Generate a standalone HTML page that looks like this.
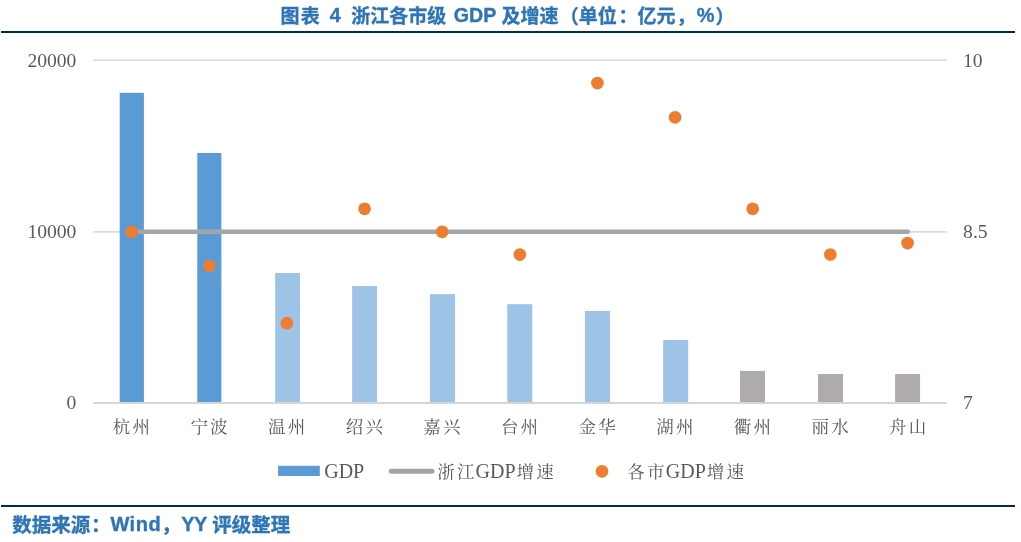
<!DOCTYPE html>
<html lang="zh-CN">
<head>
<meta charset="utf-8">
<title>图表 4 浙江各市级 GDP 及增速</title>
<style>
  html, body { margin: 0; padding: 0; background: #ffffff; }
  body { width: 1021px; height: 542px; overflow: hidden; position: relative; }
  svg { position: absolute; left: 0; top: 0; display: block; will-change: transform; }
  .hd { font-family: "Liberation Sans", "Noto Sans CJK SC", sans-serif; font-weight: bold; fill: #2e75b6; stroke: #2e75b6; stroke-width: 0.35px; }
  .ax { font-family: "Liberation Serif", "Noto Serif CJK SC", serif; font-size: 19.6px; fill: #595959; }
  .cj { font-size: 17.5px; letter-spacing: 2.2px; }
  .lg { font-size: 20px; }
</style>
</head>
<body>
<svg width="1021" height="542" viewBox="0 0 1021 542">
  <rect x="0" y="0" width="1021" height="542" fill="#ffffff"/>

  <!-- title -->
  <text class="hd" x="280.4" y="23.1" font-size="19">图<tspan dx="1.3">表</tspan> <tspan dx="4.7" dy="-1.5" font-size="19.6">4</tspan> <tspan dx="5.4" dy="1.5">浙江各市级</tspan> <tspan dx="2.2" dy="-1.5" font-size="19.6">GDP</tspan> <tspan dx="0" dy="1.5">及增速</tspan><tspan dx="1.1" dy="1.2">（</tspan><tspan dy="-1.2">单位</tspan><tspan dx="1.7">：亿元</tspan><tspan dx="1.2">，</tspan><tspan dx="1" dy="-1.5" font-size="20">%</tspan><tspan dx="1.1" dy="2.7">）</tspan></text>

  <!-- top & bottom rules -->
  <rect x="1" y="31" width="1014" height="2" fill="#002d58"/>
  <rect x="1" y="505" width="1014" height="2" fill="#002d58"/>

  <!-- gridlines -->
  <rect x="93.1" y="59.55" width="853.7" height="1.4" fill="#d9d9d9"/>
  <rect x="93.1" y="231.1" width="853.7" height="1.6" fill="#d9d9d9"/>

  <!-- bars -->
  <g fill="#5b9bd5">
    <rect x="119.7" y="92.8" width="24.2" height="310"/>
    <rect x="197.3" y="153" width="24.1" height="250"/>
  </g>
  <g fill="#9dc3e6">
    <rect x="275.2" y="273" width="24.8" height="130"/>
    <rect x="352.2" y="286" width="24.8" height="117"/>
    <rect x="430" y="294.2" width="25" height="109"/>
    <rect x="507.3" y="304.2" width="25" height="99"/>
    <rect x="585" y="311" width="25" height="92"/>
    <rect x="663.2" y="340" width="25" height="63"/>
  </g>
  <g fill="#afabab">
    <rect x="740" y="370.9" width="25" height="32"/>
    <rect x="818" y="374" width="25" height="29"/>
    <rect x="895.1" y="374" width="25" height="29"/>
  </g>

  <!-- category axis line -->
  <rect x="93.1" y="402" width="853.7" height="2" fill="#d6d6d6"/>

  <!-- Zhejiang GDP growth line -->
  <line x1="131.8" y1="231.75" x2="907.8" y2="231.75" stroke="#a5a5a5" stroke-width="4.7" stroke-linecap="round"/>

  <!-- city growth dots -->
  <g fill="#ed7d31">
    <circle cx="131.8" cy="231.8" r="6.35"/>
    <circle cx="209.3" cy="266.0" r="6.35"/>
    <circle cx="286.9" cy="323.2" r="6.35"/>
    <circle cx="364.6" cy="208.8" r="6.35"/>
    <circle cx="442.2" cy="231.8" r="6.35"/>
    <circle cx="519.8" cy="254.6" r="6.35"/>
    <circle cx="597.4" cy="83.1" r="6.35"/>
    <circle cx="675.1" cy="117.3" r="6.35"/>
    <circle cx="752.7" cy="208.8" r="6.35"/>
    <circle cx="830.3" cy="254.5" r="6.35"/>
    <circle cx="907.6" cy="243.1" r="6.35"/>
  </g>

  <!-- left axis labels -->
  <g class="ax" text-anchor="end">
    <text x="76.4" y="67.2">20000</text>
    <text x="76.4" y="238.1">10000</text>
    <text x="76.4" y="409.4">0</text>
  </g>
  <!-- right axis labels -->
  <g class="ax" text-anchor="start">
    <text x="963" y="67.2">10</text>
    <text x="963.1" y="238.1">8.5</text>
    <text x="963" y="409.4">7</text>
  </g>

  <!-- category labels -->
  <g class="ax cj" text-anchor="middle">
    <text x="132.5" y="432.8">杭州</text>
    <text x="210.1" y="432.8">宁波</text>
    <text x="287.7" y="432.8">温州</text>
    <text x="365.4" y="432.8">绍兴</text>
    <text x="443.0" y="432.8">嘉兴</text>
    <text x="520.6" y="432.8">台州</text>
    <text x="598.3" y="432.8">金华</text>
    <text x="675.9" y="432.8">湖州</text>
    <text x="753.5" y="432.8">衢州</text>
    <text x="831.2" y="432.8">丽水</text>
    <text x="908.8" y="432.8">舟山</text>
  </g>

  <!-- legend -->
  <rect x="278.1" y="465.8" width="41.7" height="10.2" fill="#5b9bd5"/>
  <text class="ax lg" x="324.2" y="478.2">GDP</text>
  <line x1="391.3" y1="471.3" x2="432" y2="471.3" stroke="#a5a5a5" stroke-width="5" stroke-linecap="round"/>
  <text class="ax lg" x="437.3" y="478.2"><tspan class="cj">浙江</tspan><tspan dx="-1.2">GDP</tspan><tspan class="cj" dx="1.1">增速</tspan></text>
  <circle cx="602" cy="471.3" r="6.35" fill="#ed7d31"/>
  <text class="ax lg" x="627.2" y="478.2"><tspan class="cj">各市</tspan><tspan dx="-0.8">GDP</tspan><tspan class="cj" dx="0.9">增速</tspan></text>

  <!-- source -->
  <text class="hd" x="12.3" y="532" font-size="19.5">数据来源<tspan dx="0.6">：</tspan><tspan dy="-0.7" font-size="20" letter-spacing="0.5">Wind</tspan><tspan dy="0.7">，</tspan><tspan dx="0.7" dy="-0.7" font-size="20" letter-spacing="-0.6">YY</tspan> <tspan dx="-0.1" dy="0.7">评级整理</tspan></text>
</svg>
</body>
</html>
